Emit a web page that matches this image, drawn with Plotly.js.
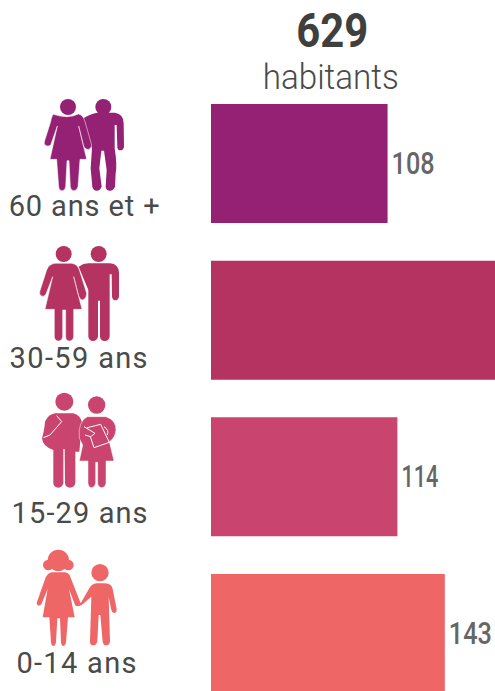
<!DOCTYPE html>
<html><head><meta charset="utf-8">
<script src="https://cdn.plot.ly/plotly-3.0.1.min.js"></script>
<style>html,body{margin:0;padding:0;background:#fff;overflow:hidden}
#c{width:495px;height:691px}</style></head><body><div id="c"></div>
<script>
const ageGroups=['60 ans et +','30-59 ans','15-29 ans','0-14 ans'];
const population=[108,264,114,143];
const barColors=['#952174','#b43361','#c9446f','#ef6667'];
const totalValue='629';
const totalUnit='habitants';
const labelCenters=[84,78,79,76];
const labelY=[206,357.5,513,662.5];
const labelWidths=[151,138,136,120];
const valueWidths=[43,0,37,43];
const xMax=173.7;

const W=495,H=691,L=211,T=85;
const PW=W-L,PH=H-T;
const px=x=>(x-L)/PW, py=y=>(H-y)/PH;
function pth(d,ox,oy,color,line){
  const s=d.replace(/(-?[\d.]+)\s+(-?[\d.]+)/g,(m,a,b)=>px(ox+a/3)+' '+py(oy+b/3));
  return {type:'path',xref:'paper',yref:'paper',path:s,fillcolor:line&&line.fillNone?'rgba(0,0,0,0)':color,
    line:line?{color:line.color,width:line.width}:{width:0},layer:'above'};
}
function circ(cx,cy,r,ox,oy,color){
  const X=ox+cx/3,Y=oy+cy/3,R=r/3;
  return {type:'circle',xref:'paper',yref:'paper',x0:px(X-R),x1:px(X+R),y0:py(Y+R),y1:py(Y-R),fillcolor:color,line:{width:0},layer:'above'};
}
const shapes=[];
(function(){
  let c=barColors[0],ox=0,oy=90;
  shapes.push(circ(204,51,24,ox,oy,c),circ(310,51,24,ox,oy,c));
  shapes.push(pth('M250 85 Q275 68 300 68 L345 68 Q371 72 371 100 L372 170 Q370 181 361 181 Q352 181 352 170 L350 105 L344 105 L344 175 Q352 225 347 250 L345 290 Q340 302 330 302 Q318 302 317 290 L320 240 L312 182 L304 182 L298 235 L305 290 Q300 302 290 302 Q280 302 277 290 L272 235 L276 175 L262 140 Z',ox,oy,c));
  shapes.push(pth('M160 73 Q204 88 235 72 Q250 75 255 95 L275 165 Q272 180 262 178 Q254 178 250 165 L236 108 L260 208 L240 208 L234 290 Q230 302 222 302 Q212 302 211 290 L207 212 L201 212 L197 290 Q195 302 186 302 Q177 302 176 290 L170 208 L150 208 L172 108 L152 165 Q146 170 138 167 Q130 162 134 152 L152 95 Q155 78 160 73 Z',ox,oy,c,{color:'#ffffff',width:.5}));

  c=barColors[1];
  shapes.push(circ(191,492,24,ox,oy,c),circ(296,492,24,ox,oy,c));
  shapes.push(pth('M236 530 Q250 520 265 520 L330 520 Q356 522 357 548 L357 620 Q354 631 346 631 Q338 631 336 620 L335 553 L329 553 L329 740 Q326 753 314 753 Q302 753 300 740 L300 632 L294 632 L294 740 Q290 753 279 753 Q268 753 265 740 L265 600 Z',ox,oy,c));
  shapes.push(pth('M165 520 L215 520 Q232 522 238 540 L260 610 Q260 626 248 630 Q240 630 236 618 L221 560 L246 658 L221 658 L221 740 Q218 753 208 753 Q198 753 197 740 L197 660 L188 660 L188 740 Q185 753 175 753 Q165 753 163 740 L163 658 L135 658 L158 560 L138 612 Q132 622 124 618 Q116 612 120 602 L140 540 Q147 522 165 520 Z',ox,oy,c,{color:'#ffffff',width:.5}));

  c=barColors[2];oy=385;
  shapes.push(circ(193,50,27,ox,oy,c),circ(290,60,26,ox,oy,c));
  shapes.push(pth('M165 85 L220 85 Q240 90 246 112 L238 200 L226 200 L226 295 Q222 308 210 308 Q197 308 195 295 L194 192 L190 192 L190 295 Q186 308 175 308 Q162 308 160 295 L160 195 Q128 185 126 160 Q134 130 135 110 Q145 88 165 85 Z',ox,oy,c));
  shapes.push(pth('M170 92 L185 110 L150 150 L130 158',ox,oy,c,{color:'#ffffff',width:1,fillNone:true}));
  shapes.push(pth('M262 95 L318 95 Q348 105 348 135 Q345 160 328 170 L342 228 L318 228 L318 295 Q315 308 305 308 Q295 308 293 295 L293 232 L287 232 L287 295 Q284 308 275 308 Q266 308 264 295 L264 228 L238 228 L248 180 L238 160 Q233 110 262 95 Z',ox,oy,c,{color:'#ffffff',width:.5}));
  shapes.push(pth('M262 128 L302 118 L328 172 L282 188 Z',ox,oy,c,{color:'#ffffff',width:1}));
  shapes.push(pth('M252 125 L285 145 L272 155 L255 150',ox,oy,c,{color:'#ffffff',width:1}));
  shapes.push(pth('M312 125 Q328 135 322 150',ox,oy,c,{color:'#ffffff',width:1,fillNone:true}));

  c=barColors[3];
  shapes.push(circ(300,563,26,ox,oy,c),circ(175,526,32,ox,oy,c),circ(145,540,16,ox,oy,c),circ(205,540,16,ox,oy,c));
  shapes.push(pth('M155 562 L196 562 Q208 565 212 578 L242 655 L268 610 Q275 596 290 595 L315 595 Q335 596 338 612 L350 672 Q350 684 342 684 Q336 684 334 675 L326 635 L330 770 Q328 781 318 781 Q310 781 308 770 L301 690 L296 690 L292 770 Q288 781 280 781 Q270 781 270 770 L274 635 L245 660 L236 664 L226 662 L207 612 L224 697 L204 697 L198 772 Q196 783 190 783 Q184 783 183 772 L180 700 L172 700 L168 772 Q166 783 160 783 Q154 783 153 772 L148 697 L128 697 L143 612 L124 658 Q118 664 112 660 Q108 654 112 648 L136 580 Q142 565 155 562 Z',ox,oy,c));
})();

function ann(text,x,y,size,color,family,weight){
  return {xref:'paper',yref:'paper',x:px(x),y:py(y),xanchor:'center',yanchor:'middle',showarrow:false,text:text,
    font:{size:size,color:color,family:family,weight:weight||400}};
}
const annotations=[
  ann(totalValue,332,30,49,'#3f3f3e','Roboto',700),
  ann(totalUnit,331,78,35,'#4a4a49','Roboto',300)
];
ageGroups.forEach((g,i)=>annotations.push(ann(g,labelCenters[i],labelY[i],29,'#4a4a49','Roboto')));
const annWidths=[72,136].concat(labelWidths);

Plotly.newPlot('c',[{
  type:'bar',orientation:'h',y:ageGroups,x:population,width:0.76,
  marker:{color:barColors,line:{width:0}},
  text:population.map(v=>v<xMax?String(v):''),textposition:'outside',cliponaxis:false,constraintext:'none',
  textfont:{family:'Roboto',size:31,color:'#666666',weight:500},hoverinfo:'skip'
}],{
  width:W,height:H,margin:{l:L,r:0,t:T,b:0,pad:0},paper_bgcolor:'#fff',plot_bgcolor:'#fff',showlegend:false,
  xaxis:{range:[0,xMax],visible:false,fixedrange:true},
  yaxis:{type:'category',categoryorder:'array',categoryarray:ageGroups,range:[3.367,-0.501],visible:false,fixedrange:true},
  shapes,annotations
},{displayModeBar:false,staticPlot:true}).then(()=>{
  document.querySelectorAll('.annotation-text').forEach((el,i)=>{
    el.setAttribute('textLength',annWidths[i]);
    el.setAttribute('lengthAdjust',i<2?'spacingAndGlyphs':'spacing');
  });
  const labelled=population.map((v,i)=>i).filter(i=>population[i]<xMax);
  [...document.querySelectorAll('.bartext')].filter(el=>el.textContent).forEach((el,k)=>{
    const w=el.getBBox().width, t=valueWidths[labelled[k]];
    el.setAttribute('textLength',t);
    el.setAttribute('lengthAdjust','spacingAndGlyphs');
    el.setAttribute('x',(+el.getAttribute('x')||0)-(w-t)/2+1);
  });
});
</script></body></html>
